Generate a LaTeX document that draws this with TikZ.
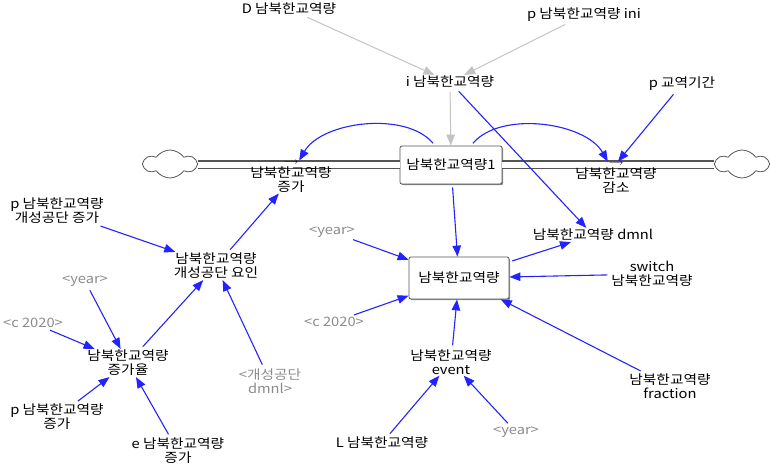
\documentclass[tikz,border=0pt]{standalone}
\usepackage{fontspec}
\setmainfont[FakeStretch=1.13]{Noto Sans CJK KR}
\usepackage{tikz}
\usetikzlibrary{ 
  	positioning,
  	arrows.meta,
  	shapes,
		shadows
  }
\definecolor{lnk}{RGB}{35,35,255}
\definecolor{glnk}{RGB}{195,195,195}
\definecolor{gtxt}{RGB}{140,140,140}
\definecolor{pipec}{RGB}{85,85,85}
\tikzstyle{var}=[align=center,inner sep=1pt,font=\fontsize{13}{14}\selectfont]
\tikzstyle{shadowvar}=[var,text=gtxt]
\tikzstyle{lvl}=[var,draw=pipec,fill=white,rounded corners=2pt,line width=0.8pt,drop shadow={shadow xshift=1.2pt,shadow yshift=-1.2pt,fill=black!45,opacity=1}]
\tikzstyle{src}=[cloud,cloud puffs=6,cloud puff arc=110,aspect=2,draw=pipec,fill=white,line width=0.8pt,minimum width=52pt,minimum height=28pt,inner sep=0pt]
\tikzstyle{pipe}=[draw=pipec,line width=1.1pt,double=white,double distance=6.8pt]
\tikzstyle{valve}=[inner sep=0.5pt,font=\fontsize{9}{9}\selectfont]
\tikzstyle{link}=[draw=lnk,line width=1.1pt,shorten <=3pt,-{Triangle[length=11pt,width=8.5pt]}]
\tikzstyle{glink}=[draw=glnk,line width=1pt,shorten <=3pt,-{Triangle[length=11pt,width=8.5pt]}]

\begin{document}
\begin{tikzpicture}[x=1pt,y=1pt]
\useasboundingbox (0,0) rectangle (771,-465);
% stock, clouds and pipes
\node[lvl,minimum width=102pt,minimum height=38pt] (stk) at (451,-165) {남북한교역량1};
\node[src] (cL) at (170,-164) {};
\node[src] (cR) at (742,-164) {};
\draw[pipe] (cL.east |- stk) -- (stk);
\draw[pipe] (stk) -- (cR.west |- stk);
\node[valve] (vL) at (291,-163) {$\longrightarrow$};
\node[valve] (vR) at (616,-164) {$\longrightarrow$};
\node[var,below=0pt of vL] (fin) {남북한교역량\\증가};
\node[var,below=0pt of vR] (fout) {남북한교역량\\감소};
% variables
\node[lvl,minimum width=100pt,minimum height=42pt] (tb) at (459,-278) {남북한교역량};
\node[var] (iv) at (450,-82) {i 남북한교역량};
\node[var] (dv) at (289,-9) {D 남북한교역량};
\node[var] (pini) at (584,-15) {p 남북한교역량 ini};
\node[var] (pt) at (682,-84) {p 교역기간};
\node[var] (dm) at (593,-235) {남북한교역량 dmnl};
\node[var] (sw) at (652,-274) {switch\\남북한교역량};
\node[shadowvar] (yr1) at (332,-232) {<year>};
\node[shadowvar] (c1) at (334,-322) {<c 2020>};
\node[var] (ev) at (451,-362) {남북한교역량\\event};
\node[var] (fr) at (670,-386) {남북한교역량\\fraction};
\node[var] (lv) at (382,-443) {L 남북한교역량};
\node[shadowvar] (yr2) at (516,-432) {<year>};
\node[var] (pk) at (57,-211) {p 남북한교역량\\개성공단 증가};
\node[var] (kf) at (216,-266) {남북한교역량\\개성공단 요인};
\node[shadowvar] (yr3) at (85,-281) {<year>};
\node[shadowvar] (c2) at (33,-323) {<c 2020>};
\node[var] (gr) at (128,-363) {남북한교역량\\증가율};
\node[shadowvar] (kd) at (270,-381) {<개성공단\\dmnl>};
\node[var] (pg) at (57,-417) {p 남북한교역량\\증가};
\node[var] (eg) at (178,-451) {e 남북한교역량\\증가};
% links
\draw[glink] (dv) -- (iv);
\draw[glink] (pini) -- (iv);
\draw[glink] (iv) -- (stk);
\draw[link] (iv) -- (dm);
\draw[link] (pt) -- (vR);
\draw[link] ([xshift=-16pt]stk.north) to[out=130,in=60,looseness=0.85] (vL.north east);
\draw[link] ([xshift=20pt]stk.north) to[out=50,in=120,looseness=0.85] (vR.north west);
\draw[link] (stk) -- (tb);
\draw[link] (tb) -- (dm);
\draw[link] (sw) -- (tb);
\draw[link] (yr1) -- (tb);
\draw[link] (c1) -- (tb);
\draw[link] (ev) -- (tb);
\draw[link] (fr) -- (tb);
\draw[link] (lv) -- (ev);
\draw[link] (yr2) -- (ev);
\draw[link] (pk) -- (kf);
\draw[link] (kf) -- (fin);
\draw[link] (yr3) -- (gr);
\draw[link] (c2) -- (gr);
\draw[link] (gr) -- (kf);
\draw[link] (kd) -- (kf);
\draw[link] (pg) -- (gr);
\draw[link] (eg) -- (gr);
\end{tikzpicture}
\end{document}
